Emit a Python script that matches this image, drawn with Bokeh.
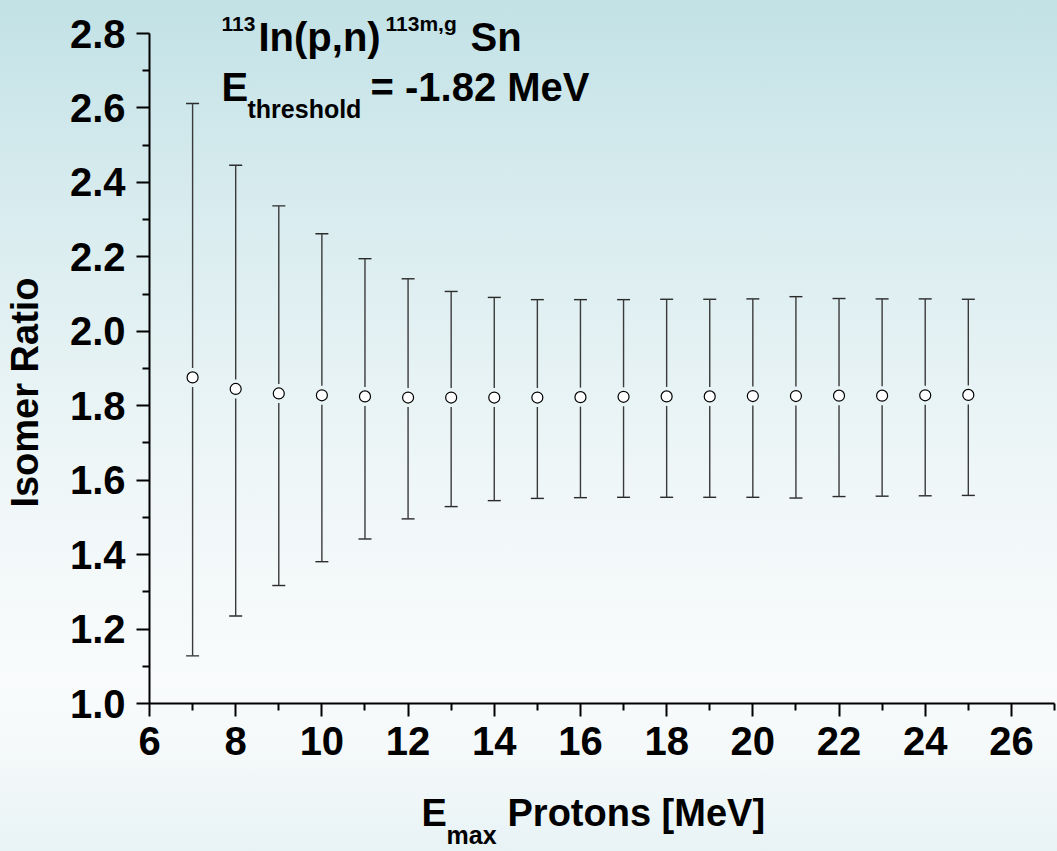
import math
from bokeh.plotting import figure
from bokeh.models import (Label, Whisker, TeeHead, ColumnDataSource, FixedTicker,
                          PrintfTickFormatter, LinearAxis)
from bokeh.embed import file_html
from bokeh.resources import INLINE

# ---- data ----
energy = [7, 8, 9, 10, 11, 12, 13, 14, 15, 16, 17, 18, 19, 20, 21, 22, 23, 24, 25]
ratio = [1.876, 1.845, 1.833, 1.828, 1.825, 1.822, 1.822, 1.822, 1.822, 1.823,
         1.824, 1.825, 1.825, 1.826, 1.826, 1.827, 1.827, 1.828, 1.829]
upper = [2.612, 2.446, 2.337, 2.262, 2.195, 2.141, 2.107, 2.091, 2.085, 2.085,
         2.085, 2.086, 2.086, 2.087, 2.093, 2.088, 2.087, 2.087, 2.086]
lower = [1.128, 1.235, 1.317, 1.381, 1.442, 1.496, 1.529, 1.545, 1.551, 1.553,
         1.554, 1.554, 1.554, 1.554, 1.552, 1.556, 1.557, 1.558, 1.559]

x_major = [6, 8, 10, 12, 14, 16, 18, 20, 22, 24, 26]
x_minor = [7, 9, 11, 13, 15, 17, 19, 21, 23, 25, 27]
y_major = [1.0, 1.2, 1.4, 1.6, 1.8, 2.0, 2.2, 2.4, 2.6, 2.8]
y_minor = [1.1, 1.3, 1.5, 1.7, 1.9, 2.1, 2.3, 2.5, 2.7]
x_axis_span = (6, 27)
y_axis_span = (1.0, 2.8)

# ---- layout (page pixels) ----
W, H = 1057, 851
FONT = "Liberation Sans"
AX_L, AX_R, AX_T, AX_B = 149, 1054, 33, 703   # where the axes' spans sit on the page

# the plotting frame covers the whole page; ranges chosen so the axes land at AX_*
xs_per_px = (x_axis_span[1] - x_axis_span[0]) / (AX_R - AX_L)
ys_per_px = (y_axis_span[1] - y_axis_span[0]) / (AX_B - AX_T)
x_range = (x_axis_span[0] - AX_L * xs_per_px, x_axis_span[1] + (W - AX_R) * xs_per_px)
y_range = (y_axis_span[0] - (H - AX_B) * ys_per_px, y_axis_span[1] + AX_T * ys_per_px)

p = figure(width=W, height=H, x_range=x_range, y_range=y_range,
           output_backend="svg", toolbar_location=None,
           x_axis_location=None, y_axis_location=None,
           min_border=0, min_border_left=0, min_border_right=0,
           min_border_top=0, min_border_bottom=0)
p.styles = {"background": "linear-gradient(to bottom, #c2e2e6 0%, #d9ecef 25%, #eef6f7 55%, #f9fbfc 80%, #f5f9fa 88%, #e8f3f5 100%)"}
p.background_fill_color = None
p.border_fill_color = None
p.outline_line_color = None
p.grid.visible = False

xax = LinearAxis(fixed_location=y_axis_span[0], bounds=x_axis_span,
                 ticker=FixedTicker(ticks=x_major, minor_ticks=x_minor),
                 formatter=PrintfTickFormatter(format="%d"))
yax = LinearAxis(fixed_location=x_axis_span[0], bounds=y_axis_span,
                 ticker=FixedTicker(ticks=y_major, minor_ticks=y_minor),
                 formatter=PrintfTickFormatter(format="%.1f"))
for ax in (xax, yax):
    ax.axis_line_width = 2
    ax.axis_line_color = "black"
    ax.major_tick_line_width = 2
    ax.minor_tick_line_width = 2
    ax.major_tick_out = 13
    ax.major_tick_in = 0
    ax.minor_tick_out = 7
    ax.minor_tick_in = 0
    ax.major_label_text_font = FONT
    ax.major_label_text_font_style = "bold"
    ax.major_label_text_font_size = "40px"
    ax.major_label_text_color = "black"
xax.major_label_standoff = 10
yax.major_label_standoff = 11
p.add_layout(xax, "below")
p.add_layout(yax, "left")

# error bars: stems with a gap around the marker
gap = 9.5 * ys_per_px
src = ColumnDataSource(dict(x=energy, y=ratio, up=upper, lo=lower,
                            y_up=[r + gap for r in ratio], y_lo=[r - gap for r in ratio]))
p.segment(x0="x", y0="y_up", x1="x", y1="up", source=src, line_color="#3a3a3a", line_width=1.4)
p.segment(x0="x", y0="y_lo", x1="x", y1="lo", source=src, line_color="#3a3a3a", line_width=1.4)
wh = Whisker(source=src, base="x", upper="up", lower="lo", dimension="height",
             line_alpha=0,
             upper_head=TeeHead(size=13, line_color="#2a2a2a", line_width=1.4),
             lower_head=TeeHead(size=13, line_color="#2a2a2a", line_width=1.4))
p.add_layout(wh)
p.scatter(x="x", y="y", source=src, marker="circle", size=11,
          fill_color="white", line_color="black", line_width=1.2)

SHIFT = 0.42  # empirical baseline correction (in em) of the rendered labels


def lbl(x, baseline, size, text, **kw):
    # x and baseline in page pixels (frame == page)
    p.add_layout(Label(x=x, y=H - baseline + SHIFT * size, x_units="screen", y_units="screen",
                       text=text, text_font=FONT, text_font_style="bold",
                       text_font_size=f"{size}px", text_color="black",
                       text_baseline="alphabetic", **kw))


# title block
lbl(221, 32, 21, "113")
lbl(258, 53, 40, "In(p,n)")
lbl(385, 32, 21, "113m,g")
lbl(470, 53, 40, "Sn")
lbl(221, 103, 40, "E")
lbl(247, 119, 25, "threshold")
lbl(370, 103, 40, "= -1.82 MeV")

# x-axis label
lbl(421, 828, 38, "E")
lbl(446, 845, 25, "max")
lbl(507, 828, 38, "Protons [MeV]")

# y-axis label (rotated; baseline is vertical at x=40)
p.add_layout(Label(x=40 - SHIFT * 38, y=H - 392, x_units="screen", y_units="screen",
                   text="Isomer Ratio", text_font=FONT, text_font_style="bold",
                   text_font_size="38px", text_color="black", angle=math.pi / 2,
                   text_align="center", text_baseline="alphabetic"))

open("out.html", "w").write(file_html(p, INLINE))
